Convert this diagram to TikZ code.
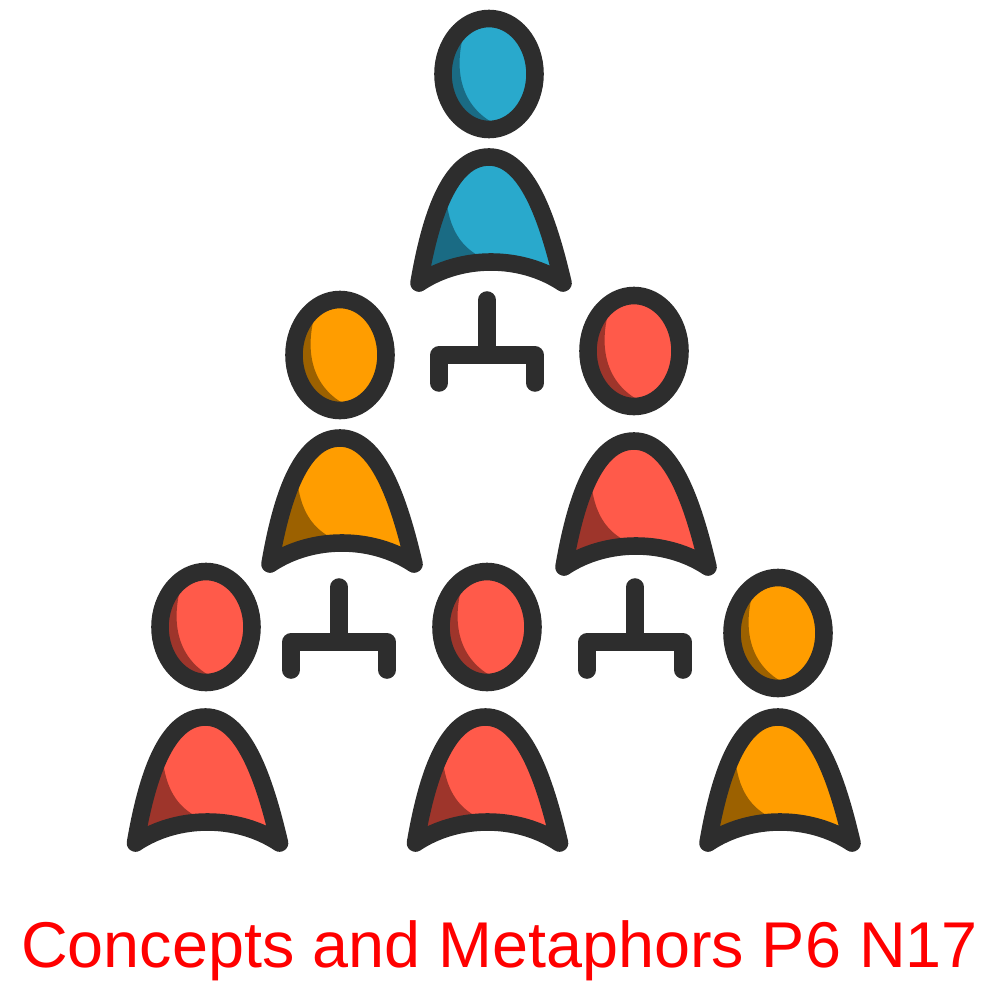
\documentclass[tikz,border=0pt]{standalone}
\usepackage{fontspec}
\setmainfont{Liberation Sans}
\definecolor{inkline}{HTML}{2D2D2D}
\definecolor{bluemain}{HTML}{29A9CC}
\definecolor{bluedark}{HTML}{1A6B84}
\definecolor{orangemain}{HTML}{FF9D00}
\definecolor{orangedark}{HTML}{9C6100}
\definecolor{redmain}{HTML}{FF5A4A}
\definecolor{reddark}{HTML}{9E352B}
\tikzset{
  outline/.style={draw=inkline,line width=5pt,line join=round,line cap=round},
  head/.pic={
    \fill[headmain] (0,0) ellipse [x radius=46,y radius=55.5];
    \begin{scope}
      \clip (0,0) ellipse [x radius=46,y radius=55.5];
      \fill[headdark] (-18,-60) .. controls (-36,-20) and (-36,28) .. (6,50) -- (6,60) -- (-60,60) -- (-60,-60) -- cycle;
    \end{scope}
    \draw[outline] (0,0) ellipse [x radius=46,y radius=55.5];
  },
  torso/.pic={
    \fill[headmain] (-72,126) .. controls (-61,62) and (-42,0) .. (-2,0) .. controls (36,0) and (57,62) .. (72,126) .. controls (30,98) and (-30,98) .. cycle;
    \begin{scope}
      \clip (-72,126) .. controls (-61,62) and (-42,0) .. (-2,0) .. controls (36,0) and (57,62) .. (72,126) .. controls (30,98) and (-30,98) .. cycle;
      \fill[headdark] (-45,40) .. controls (-42,72) and (-30,90) .. (-10,100) -- (-10,130) -- (-90,130) -- cycle;
    \end{scope}
    \draw[outline] (-72,126) .. controls (-61,62) and (-42,0) .. (-2,0) .. controls (36,0) and (57,62) .. (72,126) .. controls (30,98) and (-30,98) .. cycle;
  },
  branch/.pic={
    \draw[outline] (0,-55) -- (0,0);
    \draw[outline] (-48,28) -- (-48,0) -- (48,0) -- (48,28);
  },
  tone/.style={headmain/.style={fill=#1main},headdark/.style={fill=#1dark}}
}
\begin{document}
\begin{tikzpicture}[x=.01cm,y=-.01cm]
  \useasboundingbox (0,0) rectangle (1000,1000);
  % heads
  \pic[tone=blue] (h1) at (489,74) {head};
  \pic[tone=orange] (h2) at (340,355) {head};
  \pic[tone=red] (h3) at (634,351) {head};
  \pic[tone=red] (h4) at (206,627) {head};
  \pic[tone=red] (h5) at (487,627) {head};
  \pic[tone=orange] (h6) at (778,633) {head};
  % bodies
  \pic[tone=blue] (t1) at (491,157) {torso};
  \pic[tone=orange] (t2) at (342,438) {torso};
  \pic[tone=red] (t3) at (636,441) {torso};
  \pic[tone=red] (t4) at (207.5,717) {torso};
  \pic[tone=red] (t5) at (487.5,717) {torso};
  \pic[tone=orange] (t6) at (780,717) {torso};
  % branches
  \pic (b1) at (487,355) {branch};
  \pic (b2) at (339,642) {branch};
  \pic (b3) at (635,642) {branch};
  \node[text=red,font=\fontsize{18.4pt}{22pt}\selectfont,anchor=base,inner sep=0pt] (caption) at (499.5,967.5) {Concepts and Metaphors P6 N17};
\end{tikzpicture}
\end{document}
